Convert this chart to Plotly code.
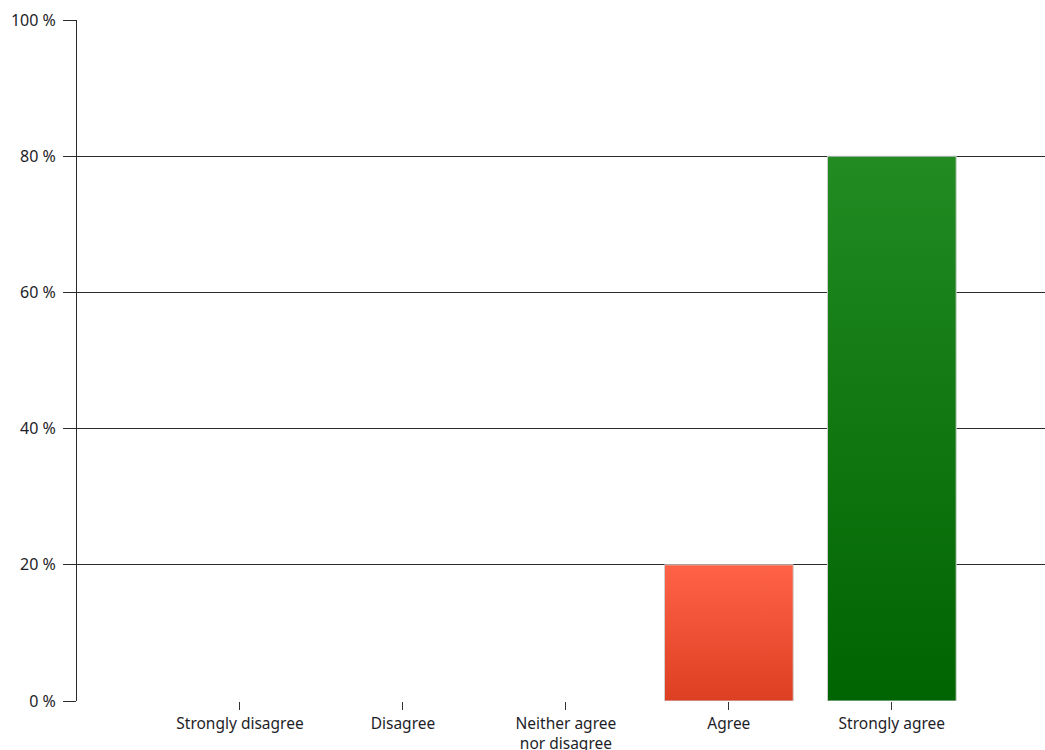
import plotly.graph_objects as go

categories = ["Strongly disagree", "Disagree", "Neither agree<br>nor disagree", "Agree", "Strongly agree"]
values = [0, 0, 0, 20, 80]
top_colors = ["#FF6347", "#FF6347", "#FF6347", "#FF6347", "#228B22"]
bottom_colors = ["#DC3F22", "#DC3F22", "#DC3F22", "#DC3F22", "#006400"]
y_ticks = [0, 20, 40, 60, 80, 100]
y_tick_labels = ["0 %", "20 %", "40 %", "60 %", "80 %", "100 %"]

positions = list(range(1, len(categories) + 1))
half = 0.395

fig = go.Figure()
for pos, v, tc, bc in zip(positions, values, top_colors, bottom_colors):
    if v <= 0:
        continue
    fig.add_trace(go.Scatter(
        x=[pos - half, pos - half, pos + half, pos + half, pos - half],
        y=[0, v, v, 0, 0],
        mode="lines",
        line=dict(color="#D0D0D0", width=1),
        fill="toself",
        fillgradient=dict(type="vertical", colorscale=[[0, bc], [1, tc]]),
        hoverinfo="skip",
        showlegend=False,
    ))

fig.update_layout(
    width=1045, height=750,
    margin=dict(l=77, r=0, t=20, b=49, autoexpand=False),
    plot_bgcolor="white", paper_bgcolor="white",
    font=dict(family="Noto Sans, Segoe UI, sans-serif", size=16, color="#1E1E28"),
    showlegend=False,
)
fig.update_xaxes(
    range=[0, 5.94], tickvals=positions, ticktext=categories,
    showgrid=False, zeroline=False, automargin=False,
    showline=False, ticks="outside", ticklen=8, tickcolor="#333333",
    tickfont=dict(size=15.5),
)
fig.update_yaxes(
    range=[0, 100], tickvals=y_ticks, ticktext=y_tick_labels,
    showgrid=True, gridcolor="#2A2A2A", gridwidth=1,
    zeroline=False, showline=True, linecolor="#2A2A2A", linewidth=1,
    automargin=False,
    ticks="outside", ticklen=13, tickcolor="#2A2A2A",
    ticklabelstandoff=4,
    tickfont=dict(size=16),
)
fig.write_html(
    "out.html",
    config={"displayModeBar": False},
    post_script="document.body.style.margin='0';document.body.style.overflow='hidden';",
)
